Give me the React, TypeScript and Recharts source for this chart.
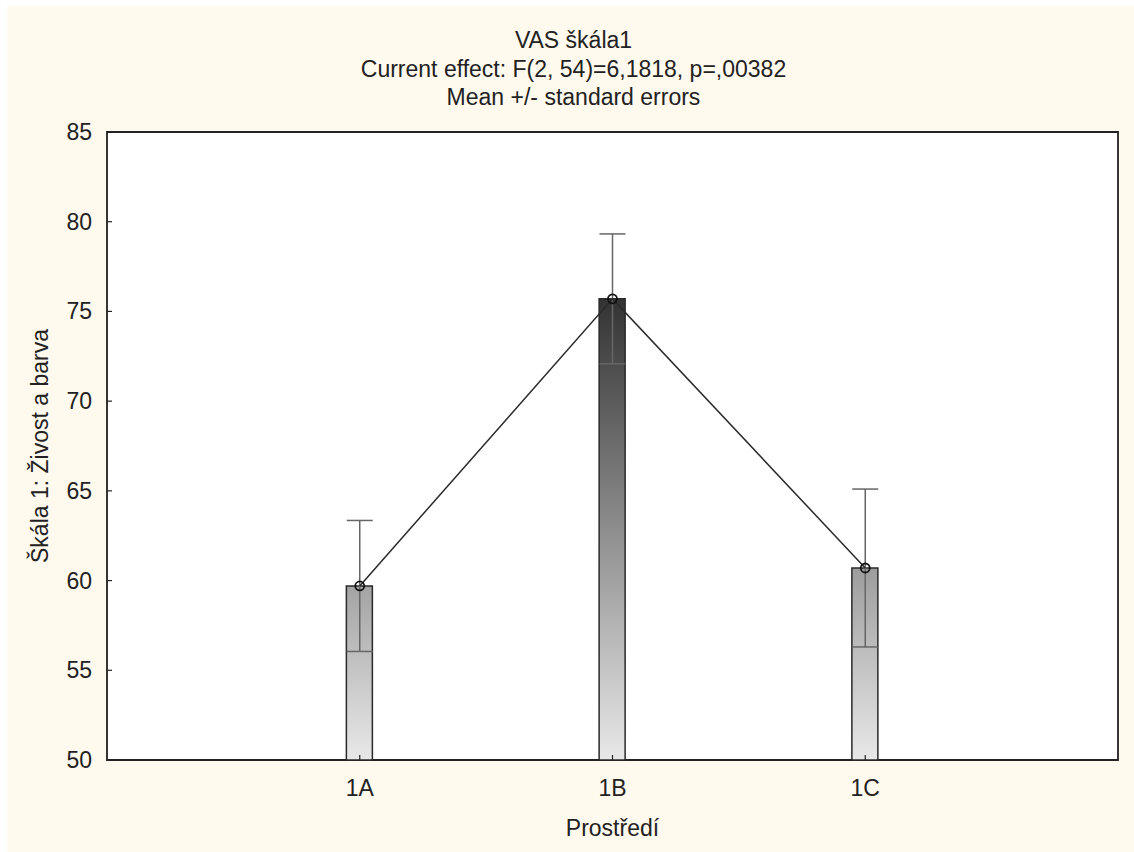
import { ComposedChart, Bar, Line, XAxis, YAxis, CartesianGrid, ErrorBar, ReferenceArea } from 'recharts';

const categories = ['1A', '1B', '1C'];
const positions = [1, 2, 3];
const means = [59.7, 75.7, 60.7];
const stdErrors = [3.65, 3.62, 4.4];
const yTicks = [50, 55, 60, 65, 70, 75, 80, 85];

const data = categories.map((label, i) => ({
  x: positions[i],
  label,
  mean: means[i],
  se: stdErrors[i],
}));

const FONT = '"Liberation Sans", Arial, sans-serif';
const FS = 23;

const YTick = (props: any) => {
  const { x, y, payload } = props;
  return (
    <g>
      <line x1={x + 15} y1={y} x2={x + 20} y2={y} stroke="#222" strokeWidth={1.2} />
      <text x={x} y={y} dy={8} textAnchor="end" fontSize={FS} fill="#222" fontFamily={FONT}>
        {payload.value}
      </text>
    </g>
  );
};

const XTick = (props: any) => {
  const { x, y, payload } = props;
  const idx = positions.indexOf(payload.value);
  return (
    <g>
      <line x1={x} y1={y - 15} x2={x} y2={y - 20} stroke="#222" strokeWidth={1.2} />
      <text x={x} y={y} dy={21} textAnchor="middle" fontSize={FS} fill="#222" fontFamily={FONT}>
        {categories[idx]}
      </text>
    </g>
  );
};

export default function App() {
  return (
    <div
      style={{
        position: 'absolute',
        left: 7,
        top: 6,
        width: 1127,
        height: 846,
        background: '#FFF9EE',
        fontFamily: FONT,
        color: '#222',
      }}
    >
      <div style={{ position: 'absolute', top: 20, left: 3, width: 1127, textAlign: 'center', fontSize: FS, lineHeight: '28.5px' }}>
        <div>VAS škála1</div>
        <div>Current effect: F(2, 54)=6,1818, p=,00382</div>
        <div>Mean +/- standard errors</div>
      </div>
      <ComposedChart
        width={1127}
        height={846}
        data={data}
        margin={{ top: 126, right: 16, left: 0, bottom: 0 }}
        style={{ position: 'absolute', left: 0, top: 0 }}
      >
        <defs>
          <linearGradient id="barGrad" gradientUnits="userSpaceOnUse" x1="0" y1="754" x2="0" y2="293">
            <stop offset="0%" stopColor="#e8e8e8" />
            <stop offset="100%" stopColor="#333333" />
          </linearGradient>
        </defs>
        <rect x={100} y={126} width={1011} height={628} fill="#ffffff" />
        <CartesianGrid stroke="#dcdcdc" strokeWidth={1.2} />
        <XAxis
          dataKey="x"
          type="number"
          domain={[0, 4]}
          ticks={positions}
          height={92}
          axisLine={false}
          tickLine={false}
          tickSize={0}
          tickMargin={15}
          tick={<XTick />}
          interval={0}
          label={{ value: 'Prostředí', position: 'insideBottom', offset: 16, fontSize: FS, fill: '#222', fontFamily: FONT }}
        />
        <YAxis
          type="number"
          domain={[50, 85]}
          ticks={yTicks}
          width={100}
          axisLine={false}
          tickLine={false}
          tickSize={0}
          tickMargin={15}
          tick={<YTick />}
          interval={0}
          label={{
            value: 'Škála 1: Živost a barva',
            angle: -90,
            position: 'insideLeft',
            offset: 33,
            fontSize: FS,
            fill: '#222',
            fontFamily: FONT,
            style: { textAnchor: 'middle' },
          }}
        />
        <Bar dataKey="mean" barSize={26} fill="url(#barGrad)" stroke="#2a2a2a" strokeWidth={1.5} isAnimationActive={false} />
        <Line
          dataKey="mean"
          stroke="#2a2a2a"
          strokeWidth={1.5}
          dot={{ r: 4.5, fill: 'none', stroke: '#111', strokeWidth: 1.8 }}
          isAnimationActive={false}
        >
          <ErrorBar dataKey="se" direction="y" width={13} stroke="#666" strokeWidth={1.5} />
        </Line>
        <ReferenceArea x1={0} x2={4} y1={50} y2={85} fill="none" fillOpacity={0} stroke="#222" strokeWidth={1.8} ifOverflow="visible" />
      </ComposedChart>
    </div>
  );
}
